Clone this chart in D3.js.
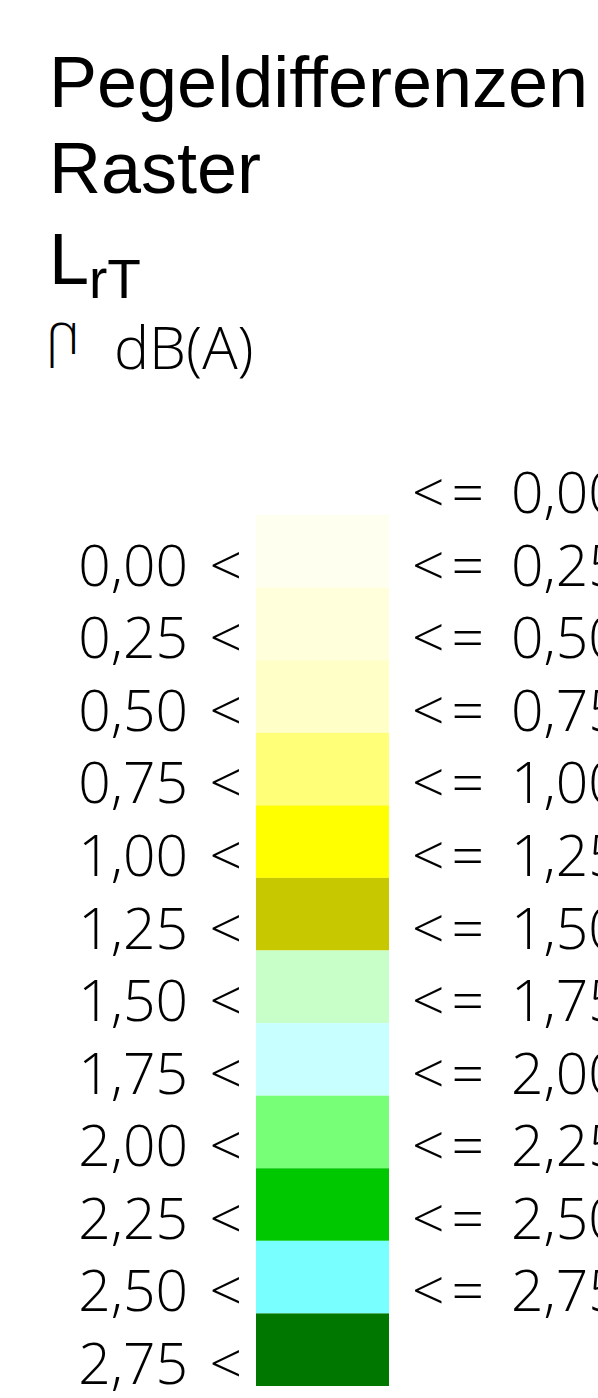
<!DOCTYPE html>
<html>
<head>
<meta charset="utf-8">
<script src="https://cdn.jsdelivr.net/npm/d3@7"></script>
<style>
  body { margin: 0; background: #fff; overflow: hidden; }
  .title { font-family: "Liberation Sans", Arial, sans-serif; fill: #000; }
  .lbl { font-family: "Open Sans", sans-serif; font-weight: 300; fill: #000; }
</style>
</head>
<body>
<svg id="chart" width="598" height="1398"></svg>
<script>
// legend classes (lower bounds) and their colours
const bounds = ["0,00", "0,25", "0,50", "0,75", "1,00", "1,25", "1,50", "1,75", "2,00", "2,25", "2,50", "2,75"];
const colors = ["#FFFFF0", "#FFFFDC", "#FFFFC8", "#FFFF78", "#FFFF00", "#C8C800",
                "#C8FFC8", "#C8FFFF", "#78FF78", "#00C800", "#78FFFF", "#007800"];
const titleLines = ["Pegeldifferenzen", "Raster"];

const svg = d3.select("#chart");

// title block
svg.selectAll("text.head")
  .data(titleLines)
  .enter().append("text")
  .attr("class", "title head")
  .attr("x", 49)
  .attr("y", (d, i) => 107 + i * 86)
  .attr("font-size", 72)
  .text(d => d);

let lrt = svg.append("text")
  .attr("class", "title")
  .attr("x", 49)
  .attr("y", 284)
  .attr("font-size", 72);
lrt.append("tspan").text("L");
lrt.append("tspan").attr("font-size", 55).attr("dy", 14).text("rT");

// unit line (first glyph as it appears in the picture)
svg.append("text")
  .attr("class", "lbl")
  .attr("transform", "translate(80,354) scale(-1,1)")
  .attr("font-size", 58)
  .attr("font-weight", 400)
  .text("\u03B7");
svg.append("text")
  .attr("class", "lbl")
  .attr("x", 114)
  .attr("y", 369)
  .attr("font-size", 59)
  .text("dB(A)");

// swatches
const y = d3.scaleLinear().domain([0, bounds.length]).range([515, 1386]);

svg.selectAll("rect.sw")
  .data(colors)
  .enter().append("rect")
  .attr("class", "sw")
  .attr("x", 256)
  .attr("width", 133)
  .attr("y", (d, i) => y(i))
  .attr("height", (d, i) => y(i + 1) - y(i))
  .attr("fill", d => d);

// left labels: "x <" at swatch bottom
const left = svg.selectAll("g.left")
  .data(bounds)
  .enter().append("g")
  .attr("class", "left")
  .attr("transform", (d, i) => "translate(0," + (y(i + 1) - 2) + ")");
left.append("text").attr("class", "lbl").attr("x", 188).attr("text-anchor", "end")
  .attr("font-size", 57).text(d => d);
left.append("text").attr("class", "lbl").attr("x", 242).attr("text-anchor", "end")
  .attr("font-size", 57).text("<");

// right labels: "<= x" at swatch top
const right = svg.selectAll("g.right")
  .data(bounds)
  .enter().append("g")
  .attr("class", "right")
  .attr("transform", (d, i) => "translate(0," + (y(i) - 2) + ")");
right.append("text").attr("class", "lbl").attr("x", 412)
  .attr("font-size", 57).attr("letter-spacing", 7).text("<=");
right.append("text").attr("class", "lbl").attr("x", 511)
  .attr("font-size", 57).text(d => d);
</script>
</body>
</html>
